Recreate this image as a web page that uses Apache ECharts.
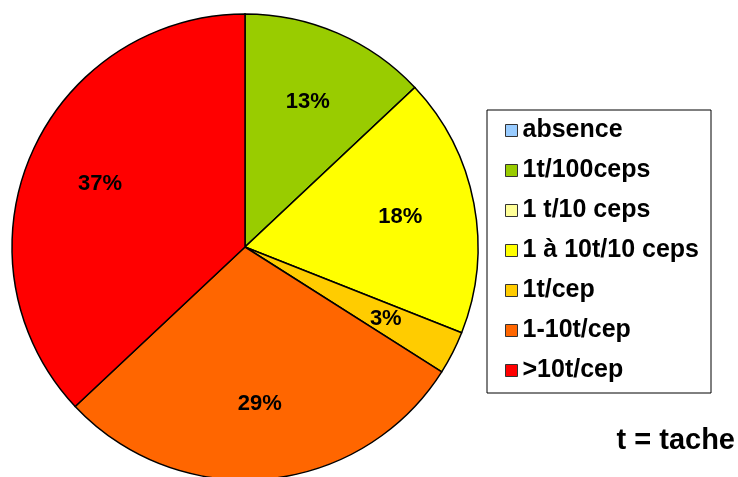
<!DOCTYPE html>
<html>
<head>
<meta charset="utf-8">
<script src="https://cdn.jsdelivr.net/npm/echarts@6/dist/echarts.min.js"></script>
<style>
html,body{margin:0;padding:0;background:#fff;}
#c{width:738px;height:477px;}
</style>
</head>
<body>
<div id="c"></div>
<script>
const categories = ['absence', '1t/100ceps', '1 t/10 ceps', '1 à 10t/10 ceps', '1t/cep', '1-10t/cep', '>10t/cep'];
const values = [0, 13, 0, 18, 3, 29, 37];
const colors = ['#99CCFF', '#99CC00', '#FFFF99', '#FFFF00', '#FFCC00', '#FF6600', '#FF0000'];
const footnote = 't = tache';

const FONT = '"Liberation Sans", Arial, sans-serif';
const chart = echarts.init(document.getElementById('c'));
const data = categories.map((n, i) => ({ name: n, value: values[i], itemStyle: { color: colors[i] } }));

chart.setOption({
  animation: false,
  legend: {
    orient: 'vertical',
    left: 487,
    top: 110,
    padding: [8, 12, 10, 18],
    itemGap: 15,
    itemWidth: 12,
    itemHeight: 12,
    icon: 'rect',
    backgroundColor: '#fff',
    borderColor: '#000',
    borderWidth: 1,
    borderRadius: 0,
    itemStyle: { borderColor: '#333', borderWidth: 1 },
    textStyle: { fontFamily: FONT, fontWeight: 'bold', fontSize: 25, lineHeight: 25, color: '#000' },
    data: categories
  },
  graphic: [{
    type: 'text',
    right: 3,
    top: 426,
    style: { text: footnote, font: 'bold 29px ' + FONT, fill: '#000' }
  }],
  series: [{
    type: 'pie',
    center: [245, 247],
    radius: [0, 233],
    startAngle: 90,
    clockwise: true,
    stillShowZeroSum: true,
    avoidLabelOverlap: false,
    label: { show: false },
    labelLine: { show: false },
    emphasis: { disabled: true },
    itemStyle: { borderColor: '#000', borderWidth: 1.5 },
    data: data
  }, {
    type: 'pie',
    center: [245, 247],
    radius: [0, 310],
    startAngle: 90,
    clockwise: true,
    silent: true,
    avoidLabelOverlap: false,
    legendHoverLink: false,
    itemStyle: { color: 'rgba(0,0,0,0)', borderWidth: 0 },
    label: {
      show: true,
      position: 'inside',
      fontFamily: FONT,
      fontWeight: 'bold',
      fontSize: 22,
      color: '#000',
      formatter: p => p.value > 0 ? p.value + '%' : ''
    },
    labelLine: { show: false },
    emphasis: { disabled: true },
    data: categories.map((n, i) => ({ name: n, value: values[i], itemStyle: { color: 'rgba(0,0,0,0)' } }))
  }]
});
</script>
</body>
</html>
